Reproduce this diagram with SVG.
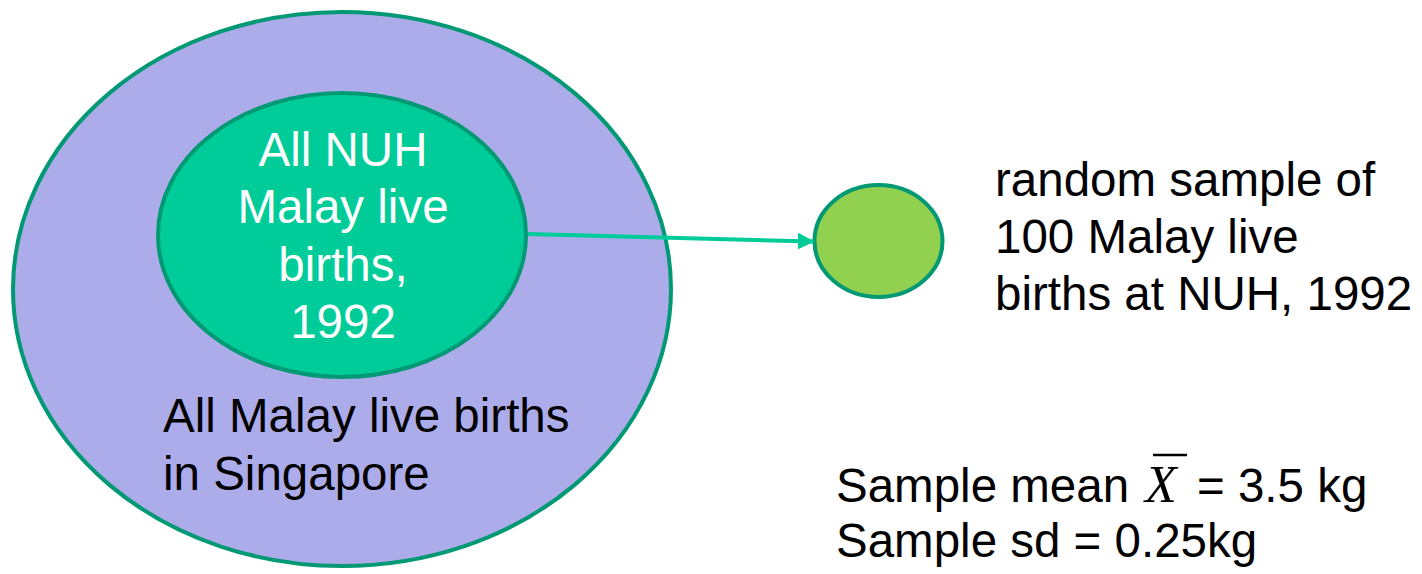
<svg xmlns="http://www.w3.org/2000/svg" width="1422" height="574" viewBox="0 0 1422 574">
  <style>
    .lbl { font-family: "Liberation Sans", Arial, sans-serif; font-size: 47.5px; fill: #000; }
    .white { fill: #ffffff; }
    .ring { stroke: #009973; stroke-width: 4; }
  </style>
  <defs>
    <marker id="arrowhead" viewBox="0 0 10 10" refX="9" refY="5" markerWidth="4.2" markerHeight="4.2" orient="auto" markerUnits="strokeWidth">
      <path d="M0,0 L10,5 L0,10 Z" fill="#00CC99"/>
    </marker>
  </defs>

  <rect width="1422" height="574" fill="#ffffff"/>

  <!-- Population: all Malay live births in Singapore -->
  <g id="population">
    <ellipse class="ring" cx="342" cy="289" rx="329" ry="277" fill="#ACACEA"/>
    <text class="lbl" x="163" y="432">All Malay live births</text>
    <text class="lbl" x="163" y="490">in Singapore</text>
  </g>

  <!-- Sampled population: NUH Malay live births -->
  <g id="nuh">
    <ellipse class="ring" cx="342" cy="235" rx="184" ry="142" fill="#00CC99"/>
    <text class="lbl white" text-anchor="middle" x="343" y="166">All NUH</text>
    <text class="lbl white" text-anchor="middle" x="343" y="223">Malay live</text>
    <text class="lbl white" text-anchor="middle" x="343" y="281">births,</text>
    <text class="lbl white" text-anchor="middle" x="343" y="338">1992</text>
  </g>

  <!-- Sample -->
  <g id="sample">
    <ellipse class="ring" cx="878.5" cy="241" rx="64" ry="56" fill="#92D050"/>
    <text class="lbl" x="995" y="196">random sample of</text>
    <text class="lbl" x="995" y="253">100 Malay live</text>
    <text class="lbl" x="995" y="310">births at NUH, 1992</text>
  </g>

  <!-- Sample statistics -->
  <g id="stats">
    <text class="lbl" x="836" y="502">Sample mean</text>
    <text x="1145" y="502" font-family="'Liberation Serif', 'Times New Roman', serif" font-style="italic" font-size="52" fill="#000">X</text>
    <line x1="1153" y1="455" x2="1187" y2="455" stroke="#000" stroke-width="2.5"/>
    <text class="lbl" x="1197" y="502">= 3.5 kg</text>
    <text class="lbl" x="836" y="557">Sample sd = 0.25kg</text>
  </g>

  <g id="connectors">
    <line x1="528" y1="234" x2="813" y2="241.5" stroke="#00CC99" stroke-width="4" marker-end="url(#arrowhead)"/>
  </g>
</svg>
